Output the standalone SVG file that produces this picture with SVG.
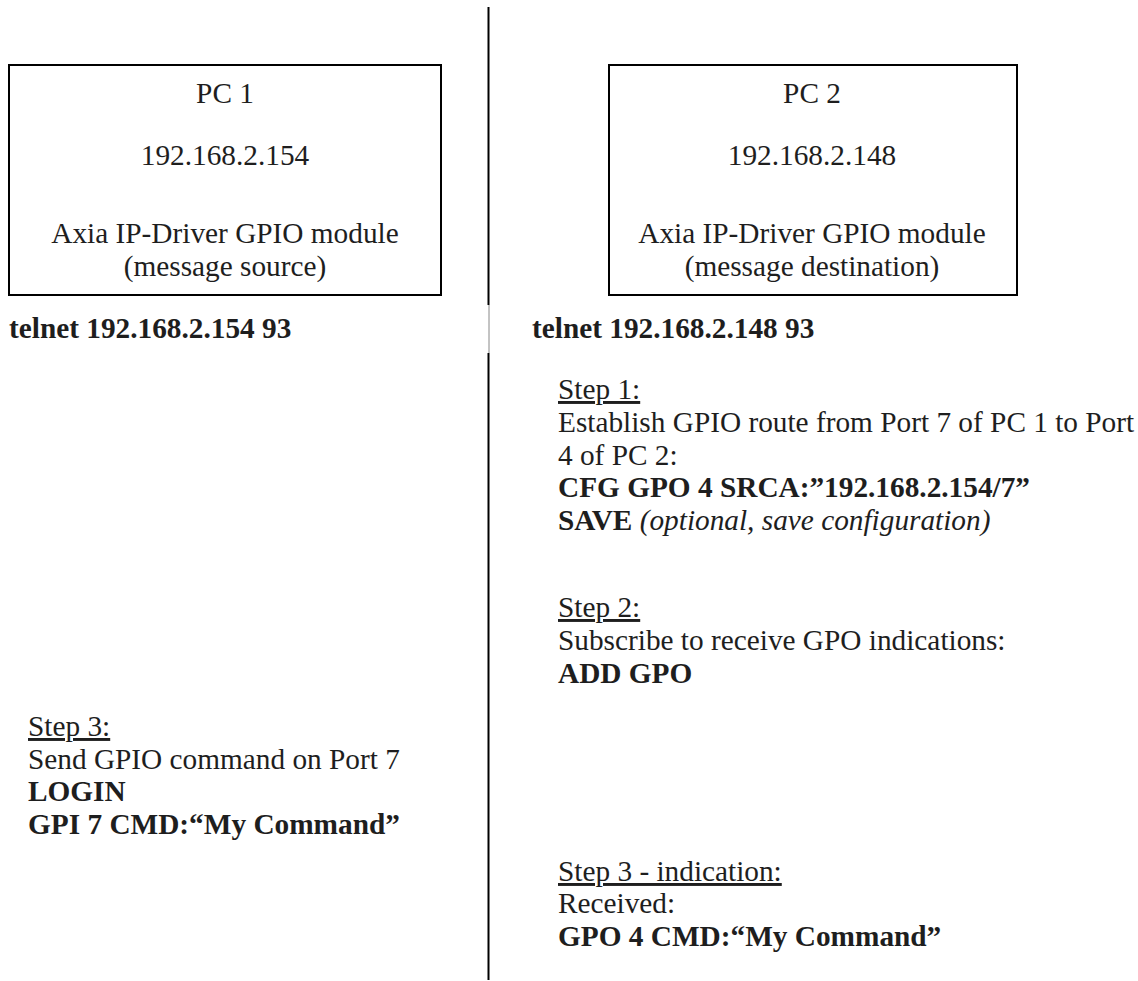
<svg xmlns="http://www.w3.org/2000/svg" width="1138" height="981" viewBox="0 0 1138 981">
<style>
text{font-family:"Liberation Serif","Times New Roman",serif;font-size:29.3px;fill:#1e1e1e}
.c{text-anchor:middle}
.b{font-weight:bold}
.i{font-style:italic;font-weight:normal}
.u{text-decoration:underline}
.box{fill:#fff;stroke:#000;stroke-width:2}
</style>
<rect width="1138" height="981" fill="#fff"/>
<g id="divider">
<line x1="488.5" y1="7" x2="488.5" y2="305" stroke="#000" stroke-width="2"/>
<line x1="489" y1="305" x2="489" y2="353" stroke="#888" stroke-width="1"/>
<line x1="488.5" y1="353" x2="488.5" y2="980" stroke="#000" stroke-width="2"/>
</g>
<g id="pc1">
<rect class="box" x="9" y="65" width="432" height="230"/>
<text class="c" x="225" y="103">PC 1</text>
<text class="c" x="225" y="165">192.168.2.154</text>
<text class="c" x="225" y="243">Axia IP-Driver GPIO module</text>
<text class="c" x="225" y="276">(message source)</text>
</g>
<g id="pc2">
<rect class="box" x="609" y="65" width="408" height="230"/>
<text class="c" x="812" y="103">PC 2</text>
<text class="c" x="812" y="165">192.168.2.148</text>
<text class="c" x="812" y="243">Axia IP-Driver GPIO module</text>
<text class="c" x="812" y="276">(message destination)</text>
</g>
<g id="telnet1"><text class="b" x="9" y="338">telnet 192.168.2.154 93</text></g>
<g id="telnet2"><text class="b" x="532" y="338">telnet 192.168.2.148 93</text></g>
<g id="step1">
<text class="u" x="558" y="399">Step 1:</text>
<text x="558" y="432">Establish GPIO route from Port 7 of PC 1 to Port</text>
<text x="558" y="465">4 of PC 2:</text>
<text class="b" x="558" y="497">CFG GPO 4 SRCA:”192.168.2.154/7”</text>
<text x="558" y="530"><tspan class="b">SAVE</tspan> <tspan class="i">(optional, save configuration)</tspan></text>
</g>
<g id="step2">
<text class="u" x="558" y="617">Step 2:</text>
<text x="558" y="650">Subscribe to receive GPO indications:</text>
<text class="b" x="558" y="683">ADD GPO</text>
</g>
<g id="step3">
<text class="u" x="28" y="736">Step 3:</text>
<text x="28" y="769">Send GPIO command on Port 7</text>
<text class="b" x="28" y="801">LOGIN</text>
<text class="b" x="28" y="834">GPI 7 CMD:“My Command”</text>
</g>
<g id="step3ind">
<text class="u" x="558" y="881">Step 3 - indication:</text>
<text x="558" y="913">Received:</text>
<text class="b" x="558" y="946">GPO 4 CMD:“My Command”</text>
</g>
</svg>
